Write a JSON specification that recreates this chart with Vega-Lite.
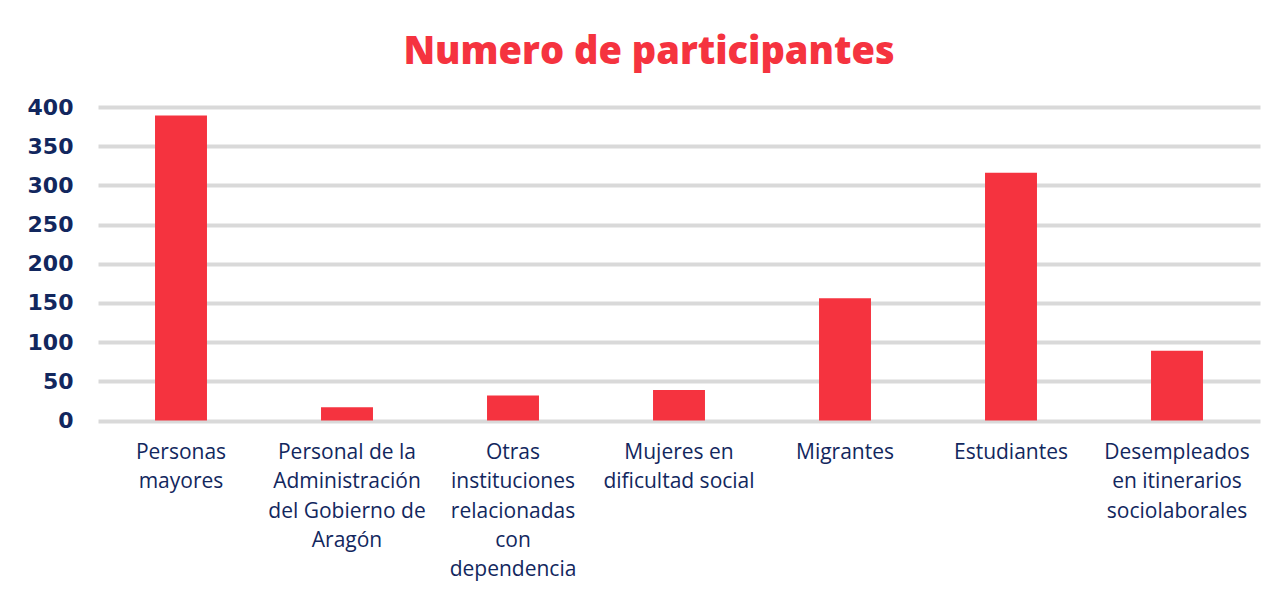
{
  "$schema": "https://vega.github.io/schema/vega-lite/v6.json",
  "autosize": {"type": "none"},
  "width": 1162,
  "height": 313.5,
  "padding": {"left": 98, "top": 107, "right": 19, "bottom": 174},
  "background": "white",
  "title": {
    "text": "Numero de participantes",
    "anchor": "middle",
    "frame": "group",
    "dx": -30,
    "dy": 48,
    "offset": 42,
    "baseline": "alphabetic",
    "font": "Open Sans",
    "fontSize": 38,
    "fontWeight": 800,
    "color": "#f5333f"
  },
  "data": {
    "values": [
      {"grupo": "Personas|mayores", "orden": 1, "participantes": 389},
      {"grupo": "Personal de la|Administración|del Gobierno de|Aragón", "orden": 2, "participantes": 17},
      {"grupo": "Otras|instituciones|relacionadas|con|dependencia", "orden": 3, "participantes": 32},
      {"grupo": "Mujeres en|dificultad social", "orden": 4, "participantes": 39},
      {"grupo": "Migrantes", "orden": 5, "participantes": 156},
      {"grupo": "Estudiantes", "orden": 6, "participantes": 316},
      {"grupo": "Desempleados|en itinerarios|sociolaborales", "orden": 7, "participantes": 89}
    ]
  },
  "mark": {"type": "bar", "color": "#f5333f"},
  "encoding": {
    "x": {
      "field": "grupo",
      "type": "nominal",
      "sort": {"field": "orden"},
      "scale": {"paddingInner": 0.687, "paddingOuter": 0.3435},
      "axis": {
        "title": null,
        "labelAngle": 0,
        "labelExpr": "split(datum.label, '|')",
        "labelFont": "Open Sans",
        "labelFontSize": 21,
        "labelColor": "#12275e",
        "labelLineHeight": 29.3,
        "labelBaseline": "top",
        "labelPadding": 21,
        "labelLimit": 0,
        "ticks": false,
        "domain": false,
        "grid": false
      }
    },
    "y": {
      "field": "participantes",
      "type": "quantitative",
      "scale": {"domain": [0, 400]},
      "axis": {
        "title": null,
        "values": [0, 50, 100, 150, 200, 250, 300, 350, 400],
        "labelFont": "DejaVu Sans",
        "labelFontSize": 22,
        "labelFontWeight": "bold",
        "labelColor": "#12275e",
        "labelPadding": 25,
        "ticks": false,
        "domain": false,
        "grid": true,
        "gridColor": "#d9d9d9",
        "gridWidth": 4
      }
    }
  },
  "config": {"view": {"stroke": null}}
}
